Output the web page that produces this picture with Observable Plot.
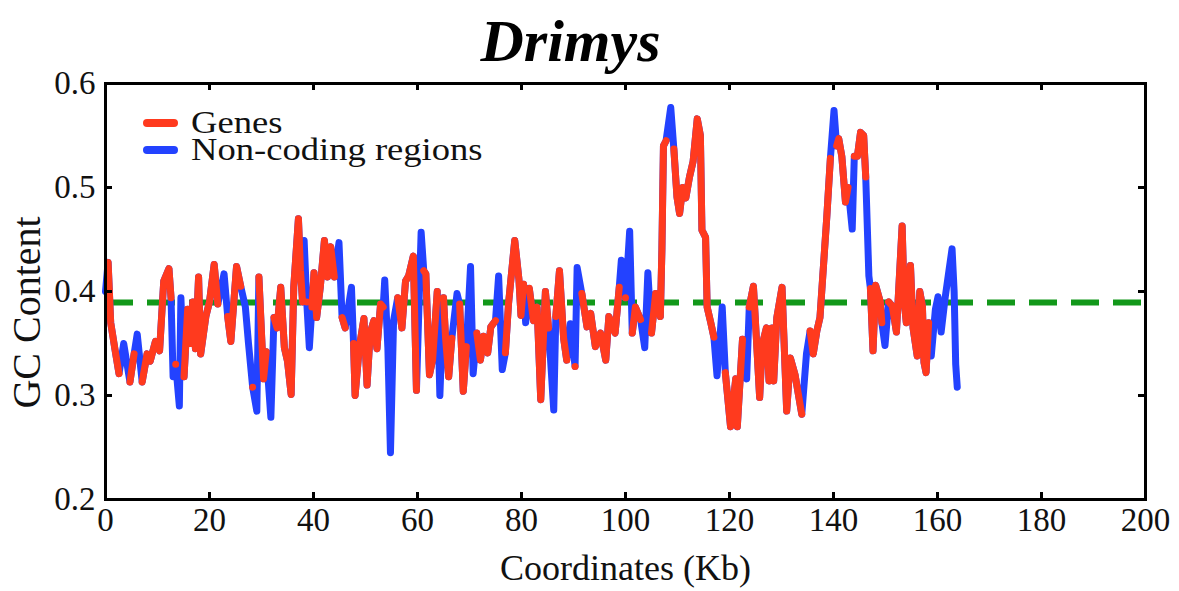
<!DOCTYPE html>
<html>
<head>
<meta charset="utf-8">
<script src="https://cdn.jsdelivr.net/npm/d3@7"></script>
<script src="https://cdn.jsdelivr.net/npm/@observablehq/plot@0.6"></script>
<style>
  html, body { margin: 0; padding: 0; background: #fff; }
  #wrap { position: relative; width: 1179px; height: 591px; overflow: hidden; }
  .legend { position: absolute; left: 143px; height: 25px; font-family: "Liberation Serif", "Times New Roman", serif; font-size: 31px; color: #111; display: flex; align-items: center; white-space: nowrap; }
  .sw { width: 35px; height: 8px; border-radius: 4px; margin-right: 13px; flex: none; }
  .lab { display: inline-block; height: 25px; line-height: 25px; overflow: visible; transform: scaleX(1.18); transform-origin: left center; }
</style>
</head>
<body>
<div id="wrap"></div>
<script>
// Sliding-window position (Kb)
const xKb = [0,0.5,1,1.8,2.6,3.5,4.7,5.5,6.1,7.05,8,8.6,9.6,10.4,11.2,12.2,12.6,13,13.5,14.2,14.5,15.1,15.8,16.3,16.8,17.3,17.9,18.3,19.3,20,20.9,21.6,22.8,23.5,24.1,25.2,26,26.9,27.5,28.3,29.1,29.5,30.4,30.9,31.8,32.4,33,33.7,34.4,35,35.7,36.2,37.1,37.5,37.9,38.2,38.7,39.2,39.7,40.1,40.6,41.3,42.1,42.7,43.3,44,44.9,45.5,46.1,47.3,47.7,48,48.8,49.7,50.3,50.9,51.6,52.2,52.9,53.4,53.7,54.3,54.8,55.4,56.2,57,57.7,58.3,59.2,59.8,60.7,61.2,61.6,62.3,62.9,63.8,64.3,65,65.4,66,66.6,67.6,68.1,68.8,69.4,70.2,70.7,71.4,72.1,72.7,73.5,74.1,75,75.6,76.3,76.9,77.5,78.7,79.5,79.9,80.4,80.8,81.5,82.3,83,83.7,84.6,85.2,86.2,86.6,87.3,88.1,88.7,89.4,90.3,90.7,91.6,92.6,93.3,94.2,95.2,96.2,96.8,98,98.8,99.2,100,100.8,101.3,101.9,102.9,103.7,104.3,105,105.8,106.7,107,107.3,107.8,108.7,109.3,109.9,110.4,111,111.6,112.3,113,113.8,114.4,114.7,115.4,115.7,116.4,117,117.6,118.6,119.2,120.2,121.2,121.5,122.5,123.3,123.8,124.6,125,125.8,126.3,127.1,127.6,128.2,128.5,129.1,130.1,131,131.7,132.6,133.9,134.8,135.5,136.1,136.8,137.4,138.7,139.4,140.1,140.6,141,141.6,142,142.3,142.8,143.6,144,144.6,145.2,145.8,146.2,146.8,147.1,147.6,148.1,149,149.3,149.9,150.6,151.3,152.1,153.2,153.6,154,154.8,155.3,156.1,156.6,157.1,157.4,157.8,158.3,158.8,159.6,160.1,160.7,161.5,162.2,162.8,163.2,163.5,163.8];

// GC content of each window
const gcContent = [0.40,0.428,0.37,0.345,0.321,0.35,0.313,0.34,0.359,0.313,0.34,0.333,0.352,0.343,0.41,0.422,0.394,0.318,0.33,0.29,0.394,0.318,0.383,0.35,0.39,0.345,0.414,0.34,0.376,0.39,0.426,0.388,0.417,0.376,0.352,0.424,0.405,0.385,0.35,0.308,0.285,0.414,0.316,0.342,0.279,0.375,0.365,0.404,0.346,0.333,0.301,0.404,0.47,0.42,0.39,0.449,0.39,0.346,0.385,0.418,0.375,0.404,0.449,0.414,0.443,0.414,0.447,0.375,0.365,0.404,0.35,0.30,0.346,0.374,0.31,0.36,0.372,0.345,0.388,0.385,0.411,0.346,0.245,0.372,0.394,0.365,0.41,0.415,0.434,0.305,0.457,0.42,0.417,0.32,0.334,0.40,0.30,0.394,0.355,0.318,0.355,0.398,0.388,0.304,0.347,0.424,0.321,0.36,0.334,0.357,0.341,0.366,0.372,0.415,0.325,0.341,0.388,0.449,0.412,0.377,0.407,0.37,0.403,0.372,0.385,0.296,0.40,0.365,0.286,0.376,0.42,0.355,0.334,0.369,0.328,0.423,0.398,0.366,0.379,0.347,0.36,0.334,0.376,0.36,0.404,0.43,0.394,0.458,0.36,0.385,0.373,0.346,0.418,0.36,0.398,0.376,0.44,0.54,0.545,0.577,0.537,0.491,0.475,0.50,0.49,0.51,0.525,0.566,0.55,0.459,0.452,0.385,0.37,0.356,0.319,0.385,0.322,0.27,0.316,0.27,0.354,0.316,0.385,0.405,0.37,0.298,0.349,0.365,0.314,0.365,0.314,0.375,0.404,0.285,0.336,0.32,0.282,0.34,0.362,0.34,0.362,0.375,0.471,0.528,0.574,0.54,0.547,0.53,0.505,0.486,0.50,0.46,0.53,0.53,0.553,0.55,0.51,0.415,0.403,0.343,0.406,0.39,0.37,0.348,0.39,0.386,0.361,0.463,0.39,0.37,0.425,0.365,0.338,0.40,0.386,0.332,0.322,0.37,0.338,0.383,0.395,0.361,0.395,0.42,0.441,0.40,0.33,0.308];

// Windows that fall in non-coding regions (all others are genes); genes stop after 158.3 Kb
const nonCodingWindows = [0,3.5,6.1,13,14.2,14.5,22.8,26.9,27.5,29.1,31.8,38.2,39.2,44.9,47.3,53.7,54.3,54.8,55.4,60.7,64.3,67.6,70.2,70.7,75.6,76.3,80.8,86.2,89.4,90.7,99.2,100.8,103.7,104.3,108.7,117.6,118.6,123.3,134.8,140.1,143.6,146.8,149.9,158.8,159.6,160.1,160.7,161.5,162.2,162.8,163.2,163.5,163.8];

const genomeMeanGC = 0.3895;
const xTicks = [0,20,40,60,80,100,120,140,160,180,200];
const yTicks = [0.2,0.3,0.4,0.5,0.6];
const seriesNames = ["Genes", "Non-coding regions"];
const seriesColors = ["#ff3a1e", "#2342ff"];

const nc = new Set(nonCodingWindows);
const nonCoding = xKb.map((x, i) => ({x, y: gcContent[i]}));
const genes = xKb.map((x, i) => ({x, y: nc.has(x) ? NaN : gcContent[i]}));

const W = 1179, H = 591;
const mt = 83, mb = 92, ml = 105, mr = 34;
const fw = W - ml - mr, fh = H - mt - mb;
const serif = "Liberation Serif, Times New Roman, serif";

const chart = Plot.plot({
  width: W, height: H,
  marginTop: mt, marginBottom: mb, marginLeft: ml, marginRight: mr,
  style: {fontFamily: serif, fontSize: "33px", color: "#111", background: "#fff", overflow: "visible"},
  x: {domain: [0, 200]},
  y: {domain: [0.2, 0.6]},
  marks: [
    Plot.ruleY([genomeMeanGC], {stroke: "#12981a", strokeWidth: 6, strokeDasharray: "28,14"}),
    Plot.line(nonCoding, {x: "x", y: "y", stroke: seriesColors[1], strokeWidth: 7, strokeLinejoin: "round", strokeLinecap: "round"}),
    Plot.line(genes, {x: "x", y: "y", stroke: seriesColors[0], strokeWidth: 7, strokeLinejoin: "round", strokeLinecap: "round"}),
    Plot.frame({stroke: "#000", strokeWidth: 3}),
    Plot.tickX(xTicks, {x: d => d, insetTop: fh - 7, stroke: "#000", strokeWidth: 3}),
    Plot.tickX(xTicks, {x: d => d, insetBottom: fh - 7, stroke: "#000", strokeWidth: 3}),
    Plot.tickY(yTicks, {y: d => d, insetRight: fw - 7, stroke: "#000", strokeWidth: 3}),
    Plot.tickY(yTicks, {y: d => d, insetLeft: fw - 7, stroke: "#000", strokeWidth: 3}),
    Plot.axisX({ticks: xTicks, tickSize: 0, tickPadding: 8, label: null, fontSize: 33}),
    Plot.axisY({ticks: yTicks, tickSize: 0, tickPadding: 10, label: null, tickFormat: d3.format(".1f"), fontSize: 33}),
    Plot.text(["Coordinates (Kb)"], {frameAnchor: "bottom", dy: 80, lineAnchor: "bottom", fontSize: 36, fill: "#111"}),
    Plot.text(["GC Content"], {frameAnchor: "left", textAnchor: "middle", lineAnchor: "middle", dx: -78, dy: 21, rotate: -90, fontSize: 40, fill: "#111"}),
    Plot.text(["Drimys"], {frameAnchor: "top", dx: -55, dy: -23, lineAnchor: "bottom", fontSize: 60, fontWeight: "bold", fontStyle: "italic", fill: "#000"})
  ]
});

const wrap = document.getElementById("wrap");
wrap.appendChild(chart);

seriesNames.forEach((name, i) => {
  const row = document.createElement("div");
  row.className = "legend";
  row.style.top = (i === 0 ? 110 : 137) + "px";
  const sw = document.createElement("div");
  sw.className = "sw";
  sw.style.background = seriesColors[i];
  const label = document.createElement("span");
  label.className = "lab";
  label.textContent = name;
  row.appendChild(sw);
  row.appendChild(label);
  wrap.appendChild(row);
});
</script>
</body>
</html>
